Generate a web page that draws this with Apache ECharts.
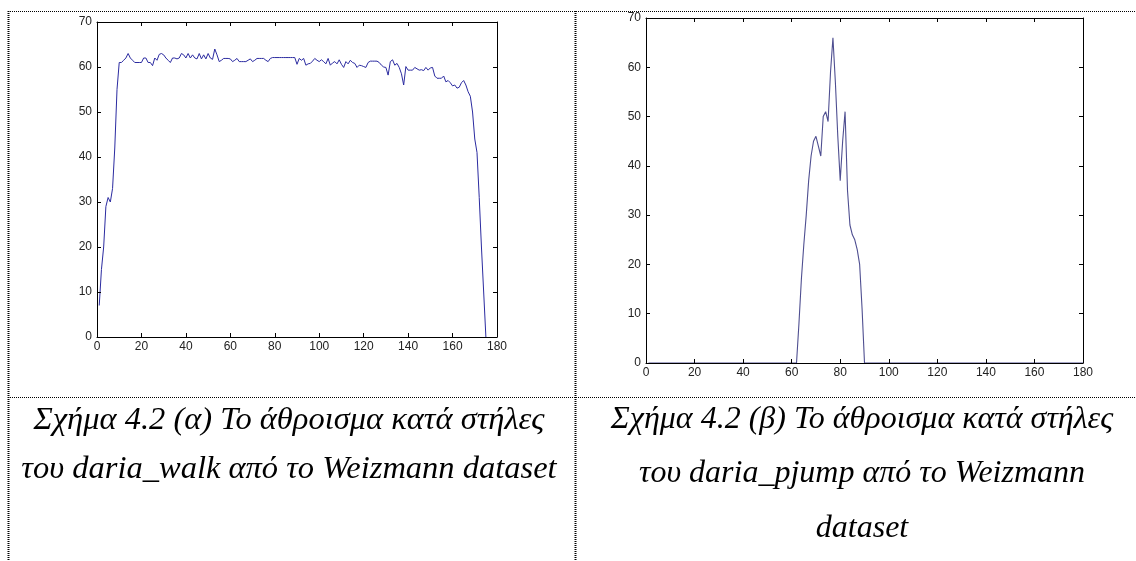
<!DOCTYPE html>
<html><head><meta charset="utf-8">
<script src="https://cdn.jsdelivr.net/npm/echarts@6/dist/echarts.min.js"></script>
<style>html,body{margin:0;padding:0;background:#fff}#c{width:1136px;height:561px}</style>
</head><body><div id="c"></div>
<script>
// Column sums of daria_walk (frames 1..175)
const walkValues = [
7,15,20,29,31,30,33,42,55,61,61,61.5,62,63,62,61.5,61,61,61,61,
62,62,61,61,60.3,62,61.5,62.8,63,62.7,62,61.5,61,62,62,61.8,62,63,62.7,62,
63,62,62.7,62,61.8,63,61.8,62.7,61.8,63,62,61.7,64,62.7,61.2,61.5,61.9,61.9,61.9,61.8,
61.2,61.5,61.9,61.2,61.2,61.2,61.2,61.5,61.8,61.2,61.5,61.9,61.9,61.9,61.9,61.5,61.2,61.9,62.1,62.1,
62.1,62.1,62.1,62.1,62.1,62.1,62.1,62.1,62.1,60.6,61.9,61.5,61.9,60.4,60.7,60.8,61.3,61.9,61.5,61.2,
61.6,61.2,60.7,61.9,60.4,60.9,61.2,60.7,61.6,60.6,59.9,61.2,60.7,61.5,61,60.8,59.9,60.4,60.3,60.1,
59.9,61,61.3,61.3,61.3,61.3,61,60.4,60,59.9,58.2,61.2,61.6,60.4,60.8,59.9,58.5,56,60.1,59.3,
59.3,59.3,59.9,59.6,59.3,59.4,59.2,59.9,59.3,59.8,59.9,58,57.5,57.5,57.5,58,56.7,57,56.5,55.8,
56,55.3,55.5,56.5,57,56,54.5,53.5,50,44,41,31,20,10,0
];
// Column sums of daria_pjump (frames 1..180)
const pjumpValues = [
0,0,0,0,0,0,0,0,0,0,0,0,0,0,0,0,0,0,0,0,
0,0,0,0,0,0,0,0,0,0,0,0,0,0,0,0,0,0,0,0,
0,0,0,0,0,0,0,0,0,0,0,0,0,0,0,0,0,0,0,0,
0,0,8,17,24,30,37,42,45,46,44,42,50,51,49,59,66,57,46,37,
45,51,35,28,26,25,23,20,11,0,0,0,0,0,0,0,0,0,0,0,
0,0,0,0,0,0,0,0,0,0,0,0,0,0,0,0,0,0,0,0,
0,0,0,0,0,0,0,0,0,0,0,0,0,0,0,0,0,0,0,0,
0,0,0,0,0,0,0,0,0,0,0,0,0,0,0,0,0,0,0,0,
0,0,0,0,0,0,0,0,0,0,0,0,0,0,0,0,0,0,0,0
];
const xTicks = {min: 0, max: 180, interval: 20};
const yTicks = {min: 0, max: 70, interval: 10};
const captionA = ["Σχήμα 4.2 (α) Το άθροισμα κατά στήλες", "του daria_walk από το Weizmann dataset"];
const captionB = ["Σχήμα 4.2 (β) Το άθροισμα κατά στήλες", "του daria_pjump από το Weizmann", "dataset"];

const chart = echarts.init(document.getElementById('c'), null, {renderer: 'canvas'});
const lab = {color: '#222', fontFamily: 'Liberation Sans, Arial, sans-serif', fontSize: 12};
function xAx(grid, pos, showLabel) {
  return {type: 'value', gridIndex: grid, position: pos, min: xTicks.min, max: xTicks.max, interval: xTicks.interval, z: 5,
    axisLine: {show: true, onZero: false, lineStyle: {color: '#000', width: 1}},
    axisTick: {show: true, inside: true, length: 4, lineStyle: {color: '#000'}},
    axisLabel: Object.assign({show: showLabel, margin: 4}, lab), splitLine: {show: false}};
}
function yAx(grid, pos, showLabel) {
  return {type: 'value', gridIndex: grid, position: pos, min: yTicks.min, max: yTicks.max, interval: yTicks.interval, z: 5,
    axisLine: {show: true, onZero: false, lineStyle: {color: '#000', width: 1}},
    axisTick: {show: true, inside: true, length: 4, lineStyle: {color: '#000'}},
    axisLabel: Object.assign({show: showLabel, margin: 5}, lab), splitLine: {show: false}};
}
const walkData = walkValues.map((v, i) => [i + 1, v]);
const pjumpData = pjumpValues.map((v, i) => [i + 1, v]);

function vline(x, y1, y2, w) {
  return {type: 'line', shape: {x1: x, y1: y1, x2: x, y2: y2}, style: {stroke: '#000', lineWidth: w, lineDash: [1, 1]}, silent: true};
}
function hline(y, x1, x2) {
  return {type: 'line', shape: {x1: x1, y1: y, x2: x2, y2: y}, style: {stroke: '#000', lineWidth: 1, lineDash: [1, 1]}, silent: true};
}
function cap(text, cx, cy, size) {
  return {type: 'text', x: cx, y: cy, style: {text: text, fill: '#000', font: 'italic ' + size + 'px "Liberation Serif", "Times New Roman", serif', textAlign: 'center', textVerticalAlign: 'middle'}, silent: true};
}

chart.setOption({
  animation: false,
  backgroundColor: '#fff',
  grid: [
    {left: 97, top: 22, width: 400, height: 315, show: false},
    {left: 646, top: 18, width: 437, height: 345, show: false}
  ],
  xAxis: [xAx(0, 'bottom', true), xAx(0, 'top', false), xAx(1, 'bottom', true), xAx(1, 'top', false)],
  yAxis: [yAx(0, 'left', true), yAx(0, 'right', false), yAx(1, 'left', true), yAx(1, 'right', false)],
  series: [
    {type: 'line', xAxisIndex: 0, yAxisIndex: 0, data: walkData, showSymbol: false, z: 2,
      lineStyle: {color: '#2b2ba0', width: 1}},
    {type: 'line', xAxisIndex: 2, yAxisIndex: 2, data: pjumpData, showSymbol: false, z: 2,
      lineStyle: {color: '#4e4e90', width: 1.1}}
  ],
  graphic: [
    hline(11.5, 8, 1136),
    vline(8.5, 11, 561, 2),
    vline(575.5, 11, 561, 2),
    hline(397.5, 8, 1136),
    cap(captionA[0], 289, 420, 32.5),
    cap(captionA[1], 289, 469, 32.5),
    cap(captionB[0], 862, 420, 32),
    cap(captionB[1], 862, 474, 32),
    cap(captionB[2], 862, 529, 32)
  ]
});
</script>
</body></html>
